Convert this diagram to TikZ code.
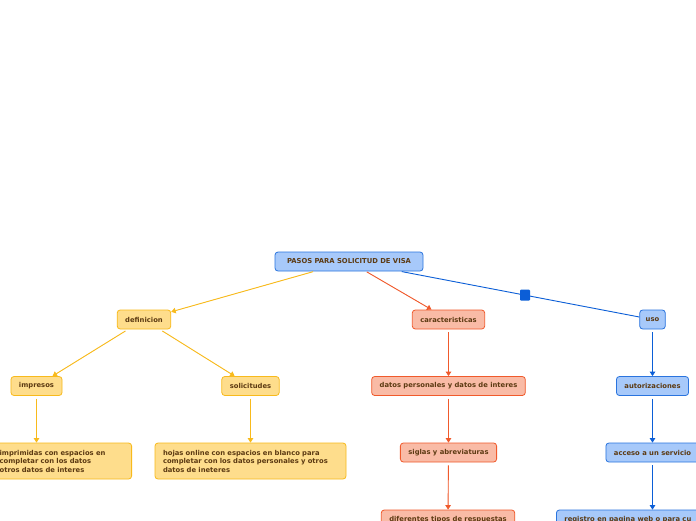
\documentclass[tikz,border=0pt]{standalone}
\usepackage{fontspec}
\setmainfont{DejaVu Sans}
\usetikzlibrary{arrows.meta}
\definecolor{txt}{HTML}{5C3A12}
\definecolor{yfill}{HTML}{FEDD8C}
\definecolor{yline}{HTML}{F8BA1C}
\definecolor{ofill}{HTML}{F9BBA6}
\definecolor{oline}{HTML}{F05A2C}
\definecolor{bfill}{HTML}{A7C9FA}
\definecolor{bline}{HTML}{2A74DE}
\definecolor{bconn}{HTML}{0B5ED7}
\tikzset{
  box/.style={rounded corners=3pt, line width=0.8pt, inner xsep=8pt, inner ysep=0pt,
    minimum height=19pt, text=txt, font=\fontsize{6.8}{8.5}\selectfont\bfseries},
  ybox/.style={box, fill=yfill, draw=yline},
  obox/.style={box, fill=ofill, draw=oline},
  bbox/.style={box, fill=bfill, draw=bline},
  conn/.style={line width=0.9pt, -{Triangle[length=4.5pt,width=5.5pt]}, shorten <=3pt},
  yconn/.style={conn, draw=yline, fill=yline},
  oconn/.style={conn, draw=oline, fill=oline},
  bconnst/.style={conn, draw=bconn, fill=bconn},
}
\begin{document}
\begin{tikzpicture}[x=1pt,y=-1pt]
\useasboundingbox (0,0) rectangle (696,520);
\clip (0,0) rectangle (696,520);
\fill[white] (0,0) rectangle (696,520);

\node[bbox, minimum width=148pt] (root) at (349,261.5) {PASOS PARA SOLICITUD DE VISA};
\node[ybox] (def) at (144,319.5) {definicion};
\node[obox] (car) at (448.5,319.5) {caracteristicas};
\node[bbox, inner xsep=6pt] (uso) at (652.5,319.5) {uso};

\node[ybox] (imp) at (36.5,386) {impresos};
\node[ybox] (sol) at (250.5,386) {solicitudes};
\node[obox] (dat) at (448.5,386) {datos personales y datos de interes};
\node[bbox] (aut) at (652.5,386) {autorizaciones};

\node[ybox, align=left, text width=124pt, anchor=east, minimum height=36pt] (imps) at (132,461) {imprimidas con espacios en\\completar con los datos\\otros datos de interes};
\node[ybox, align=left, text width=175pt, minimum height=36pt] (hoj) at (250.5,461) {hojas online con espacios en blanco para\\completar con los datos personales y otros\\datos de ineteres};
\node[obox] (sig) at (448.5,452.5) {siglas y abreviaturas};
\node[bbox] (acc) at (652.5,452.5) {acceso a un servicio};

\node[obox] (dif) at (448,519.5) {diferentes tipos de respuestas};
\node[bbox, anchor=west] (reg) at (556,519.5) {registro en pagina web o para cu};

\draw[yconn, shorten <=1pt] (root) -- (def);
\draw[oconn, shorten <=1pt] (root) -- (car);
\draw[line width=0.9pt, draw=bconn, shorten <=1pt] (root) -- (uso);
\fill[bconn, rounded corners=1pt] (520,289.5) rectangle (530,300.5);

\draw[yconn] (def) -- (imp);
\draw[yconn] (def) -- (sol);
\draw[yconn] (imp) -- (imp|-imps.north);
\draw[yconn] (sol) -- (hoj);
\draw[oconn] (car) -- (dat);
\draw[oconn] (dat) -- (sig);
\draw[oconn] (sig) -- (dif);
\draw[bconnst] (uso) -- (aut);
\draw[bconnst] (aut) -- (acc);
\draw[bconnst] (acc) -- (acc|-reg.north);
\end{tikzpicture}
\end{document}
